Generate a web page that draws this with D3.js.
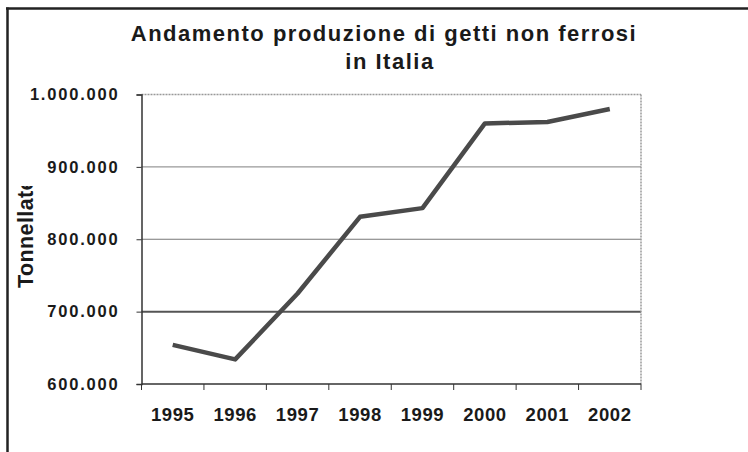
<!DOCTYPE html>
<html>
<head>
<meta charset="utf-8">
<script src="https://cdn.jsdelivr.net/npm/d3@7"></script>
<style>
  body { margin: 0; background: #fff; }
  text { font-family: "Liberation Sans", Arial, sans-serif; font-weight: bold; fill: #1a1a1a; }
</style>
</head>
<body>
<script>
// data
var years = ["1995", "1996", "1997", "1998", "1999", "2000", "2001", "2002"];
var tonnes = [654000, 634000, 725000, 831000, 843000, 960000, 962000, 980000];
var yTicks = [600000, 700000, 800000, 900000, 1000000];
var titleLines = ["Andamento produzione di getti non ferrosi", "in Italia"];
var yTitle = "Tonnellate";

var width = 748, height = 452;
var plot = {left: 141.5, right: 641, top: 94.5, bottom: 384};

var svg = d3.select("body").append("svg")
  .attr("width", width)
  .attr("height", height);

// outer frame (only top and left edges are visible)
svg.append("line").attr("x1", 6).attr("x2", width).attr("y1", 8.5).attr("y2", 8.5)
  .attr("stroke", "#222").attr("stroke-width", 2.5);
svg.append("line").attr("x1", 7.5).attr("x2", 7.5).attr("y1", 7.5).attr("y2", height)
  .attr("stroke", "#222").attr("stroke-width", 2.5);

var x = d3.scaleBand().domain(years).range([plot.left, plot.right]);
var y = d3.scaleLinear().domain([600000, 1000000]).range([plot.bottom, plot.top]);

var fmt = function(v) { return d3.format(",")(v).replace(/,/g, "."); };

// title
svg.append("text").attr("x", 384).attr("y", 41)
  .attr("text-anchor", "middle")
  .style("font-size", "22px").style("letter-spacing", "1.5px")
  .text(titleLines[0]);
svg.append("text").attr("x", 390).attr("y", 69)
  .attr("text-anchor", "middle")
  .style("font-size", "22px").style("letter-spacing", "1.5px")
  .text(titleLines[1]);

// gridlines
var gridColor = {700000: "#555", 800000: "#777", 900000: "#999"};
svg.append("g").selectAll("line")
  .data(yTicks.filter(function(d) { return d > 600000 && d < 1000000; }))
  .enter().append("line")
  .attr("x1", plot.left).attr("x2", plot.right)
  .attr("y1", function(d) { return y(d); })
  .attr("y2", function(d) { return y(d); })
  .attr("stroke", function(d) { return gridColor[d]; })
  .attr("stroke-width", function(d) { return d == 700000 ? 2 : 1.2; });

// plot area border (top and right are light)
svg.append("line").attr("x1", plot.left).attr("x2", plot.right)
  .attr("y1", plot.top).attr("y2", plot.top)
  .attr("stroke", "#999").attr("stroke-width", 1.5).attr("stroke-dasharray", "2,1");
svg.append("line").attr("x1", plot.right).attr("x2", plot.right)
  .attr("y1", plot.top).attr("y2", plot.bottom)
  .attr("stroke", "#999").attr("stroke-width", 1.5).attr("stroke-dasharray", "2,1");

// y axis
var yAxis = svg.append("g")
  .attr("transform", "translate(" + plot.left + ",0)")
  .call(d3.axisLeft(y).tickValues(yTicks).tickFormat(fmt).tickSize(5).tickPadding(17));
yAxis.select(".domain").attr("stroke", "#333").attr("stroke-width", 1.5);
yAxis.selectAll(".tick line").attr("stroke", "#333");
yAxis.selectAll(".tick text")
  .style("font-size", "16.5px").style("letter-spacing", "1.8px")
  .attr("fill", "#1a1a1a");

// x axis, ticks sit between the categories
var xAxis = svg.append("g")
  .attr("transform", "translate(0," + plot.bottom + ")");
xAxis.append("line").attr("x1", plot.left).attr("x2", plot.right)
  .attr("stroke", "#333").attr("stroke-width", 1.5);
xAxis.selectAll(".xt")
  .data(years.concat(["end"]))
  .enter().append("line")
  .attr("x1", function(d) { return d == "end" ? plot.right : x(d); })
  .attr("x2", function(d) { return d == "end" ? plot.right : x(d); })
  .attr("y1", 0).attr("y2", 6)
  .attr("stroke", "#333");
xAxis.selectAll("text")
  .data(years)
  .enter().append("text")
  .attr("x", function(d) { return x(d) + x.bandwidth() / 2; })
  .attr("y", 37)
  .attr("text-anchor", "middle")
  .style("font-size", "18.5px").style("letter-spacing", "0.6px")
  .text(function(d) { return d; });

// y axis title, cut off at the top like in the original
svg.append("clipPath").attr("id", "ttl")
  .append("rect").attr("x", 0).attr("y", 186).attr("width", 60).attr("height", 200);
svg.append("g")
  .attr("clip-path", "url(#ttl)")
  .append("text")
  .attr("transform", "translate(32.5,288) rotate(-90)")
  .style("font-size", "21.5px").style("letter-spacing", "0.4px")
  .text(yTitle);

// the line
var line = d3.line()
  .x(function(d, i) { return x(years[i]) + x.bandwidth() / 2; })
  .y(function(d) { return y(d); });

svg.append("path")
  .datum(tonnes)
  .attr("d", line)
  .attr("fill", "none")
  .attr("stroke", "#4a4a4a")
  .attr("stroke-width", 4.5)
  .attr("stroke-linejoin", "round");
</script>
</body>
</html>
